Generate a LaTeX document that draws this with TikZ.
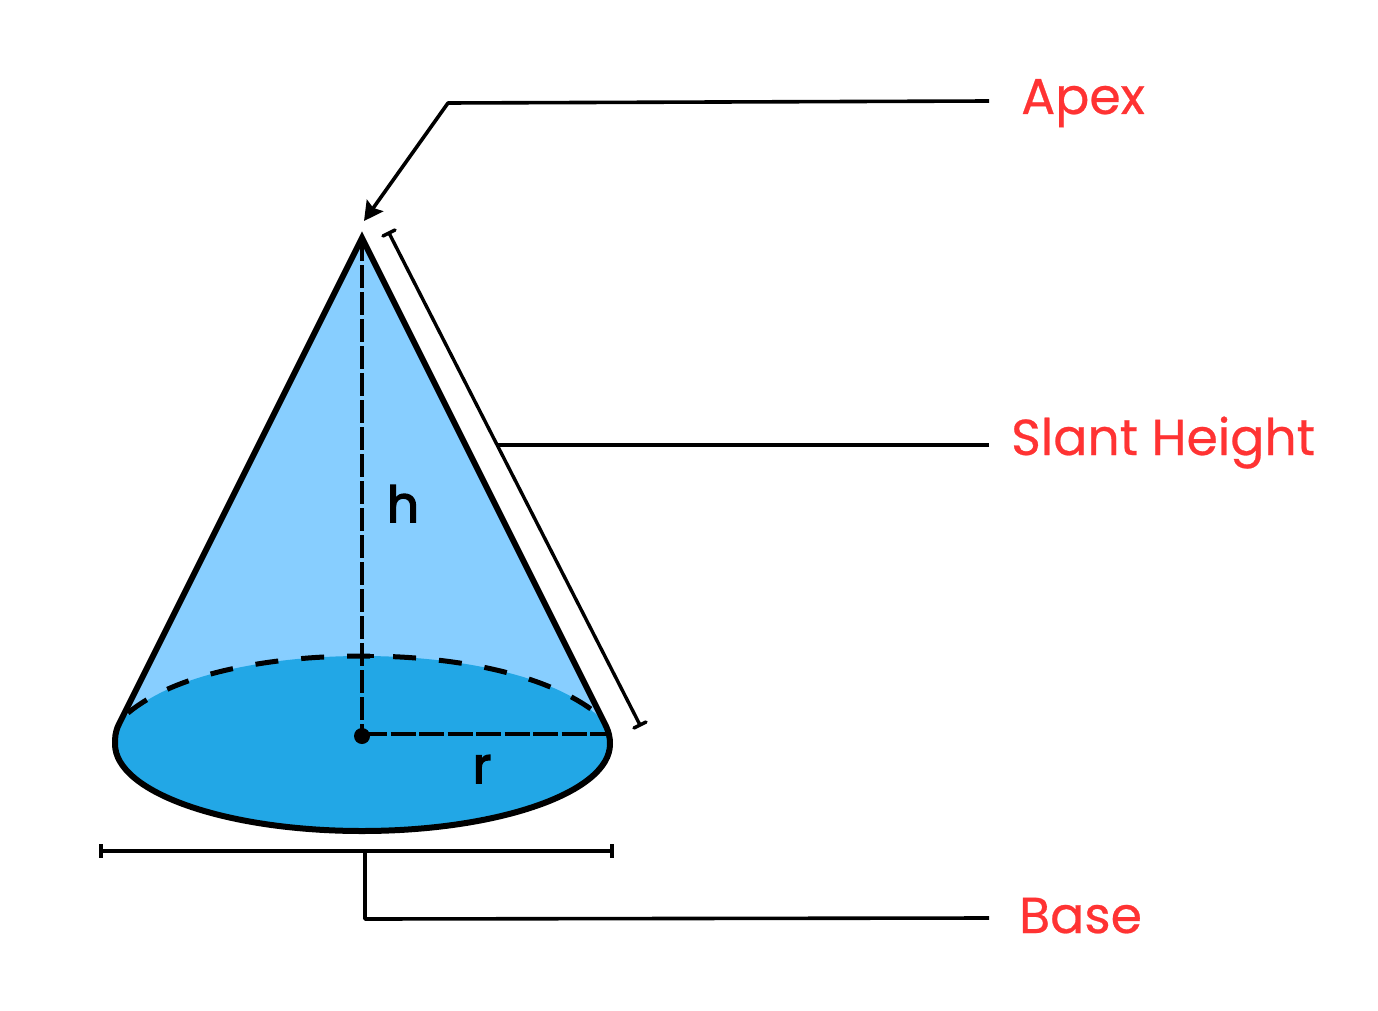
\documentclass[tikz,border=0pt]{standalone}
\usepackage{fontspec}
\setmainfont{Poppins}
\newfontfamily\labelfont[FakeBold=0.5]{Poppins}
\newfontfamily\letterfont[FakeBold=3]{Poppins}
\usetikzlibrary{arrows.meta}
\definecolor{conelight}{HTML}{87CEFF}
\definecolor{conebase}{HTML}{22A7E6}
\definecolor{labelred}{HTML}{FF3333}
\tikzset{
  x=1pt,y=-1pt,
  outline/.style={draw=black,line width=6pt,line join=miter,miter limit=10},
  leader/.style={draw=black,line width=3.6pt,line join=round},
  dimline/.style={draw=black,line width=3.4pt},
  hiddenrim/.style={draw=black,line width=5pt,dash pattern=on 23pt off 23pt},
  axisdash/.style={draw=black,line width=4.6pt,dash pattern=on 23pt off 4pt},
  radiusdash/.style={draw=black,line width=4.6pt,dash pattern=on 25pt off 3.5pt},
  redlabel/.style={text=labelred,font=\labelfont\fontsize{50.5}{56}\selectfont,inner sep=0pt,anchor=base west},
  letter/.style={text=black,font=\letterfont\fontsize{50}{54}\selectfont,inner sep=0pt,anchor=base},
}
\begin{document}
\begin{tikzpicture}
\useasboundingbox (0,0) rectangle (1378,1011);
\fill[white] (0,0) rectangle (1378,1011);
% key points
\coordinate (apex) at (362,238);
\coordinate (lc) at (119,724);
\coordinate (rc) at (605,724);
\coordinate (lm) at (115,744);
\coordinate (rm) at (610,744);
\coordinate (bot) at (362,831);
\coordinate (top) at (362,656);
\coordinate (centre) at (362,736);
% fills
\fill[conelight] (apex) -- (lc) -- (lm) -- (rm) -- (rc) -- cycle;
\fill[conebase] (lm) .. controls (115,695) and (225,656) .. (top)
  .. controls (499,656) and (610,695) .. (rm)
  .. controls (610,792) and (499,831) .. (bot)
  .. controls (225,831) and (115,792) .. (lm) -- cycle;
\fill[conebase] (lc) -- (lm) -- (130,712) -- cycle;
\fill[conebase] (rc) -- (rm) -- (594,712) -- cycle;
% hidden rim
\draw[hiddenrim] (128,713) .. controls (172,676) and (262,656) .. (top)
  .. controls (462,656) and (552,676) .. (600,716);
% height, radius
\draw[axisdash] (apex) -- (centre);
\draw[radiusdash] (centre |- 0,734) -- (rm |- 0,734);
\draw[line width=4.5pt] (350,656) -- (374,656);
\fill (centre) circle (8);
% outline
\draw[outline] (lc) -- (apex) -- (rc) .. controls (609,732) and (610,738) .. (rm)
  .. controls (610,792) and (499,831) .. (bot)
  .. controls (225,831) and (115,792) .. (lm)
  .. controls (115,738) and (115,732) .. (lc) -- cycle;
% letters
\node[letter] (h) at (403,522) {h};
\node[letter] (r) at (482,783) {r};
% slant dimension
\coordinate (s1) at (389,233);
\coordinate (s2) at (640,725);
\coordinate (sfoot) at (497,445);
\draw[dimline] (s1) -- (s2);
\draw[dimline,line cap=round] (383,236) -- (395,230);
\draw[dimline,line cap=round] (634,728) -- (646,722);
% base dimension
\coordinate (b1) at (101,851);
\coordinate (b2) at (612,851);
\coordinate (bfoot) at (365,851);
\draw[dimline] (b1) -- (b2);
\draw[dimline] (101,844) -- (101,858);
\draw[dimline] (612,844) -- (612,858);
% labels
\node[redlabel] (apexlabel) at (1021,114) {Apex};
\node[redlabel] (slantlabel) at (1011,455) {Slant Height};
\node[redlabel] (baselabel) at (1019,933) {Base};
% leaders
\coordinate (a0) at (989,101);
\coordinate (a1) at (448,103);
\coordinate (a2) at (364,221);
\coordinate (s0) at (989,445);
\coordinate (b0) at (989,918);
\coordinate (b3) at (365,919);
\draw[leader,-{Stealth[length=19pt,width=20pt,inset=3pt]}] (a0) -- (a1) -- (a2);
\draw[leader] (s0) -- (sfoot);
\draw[leader] (b0) -- (b3) -- (bfoot);
\end{tikzpicture}
\end{document}
